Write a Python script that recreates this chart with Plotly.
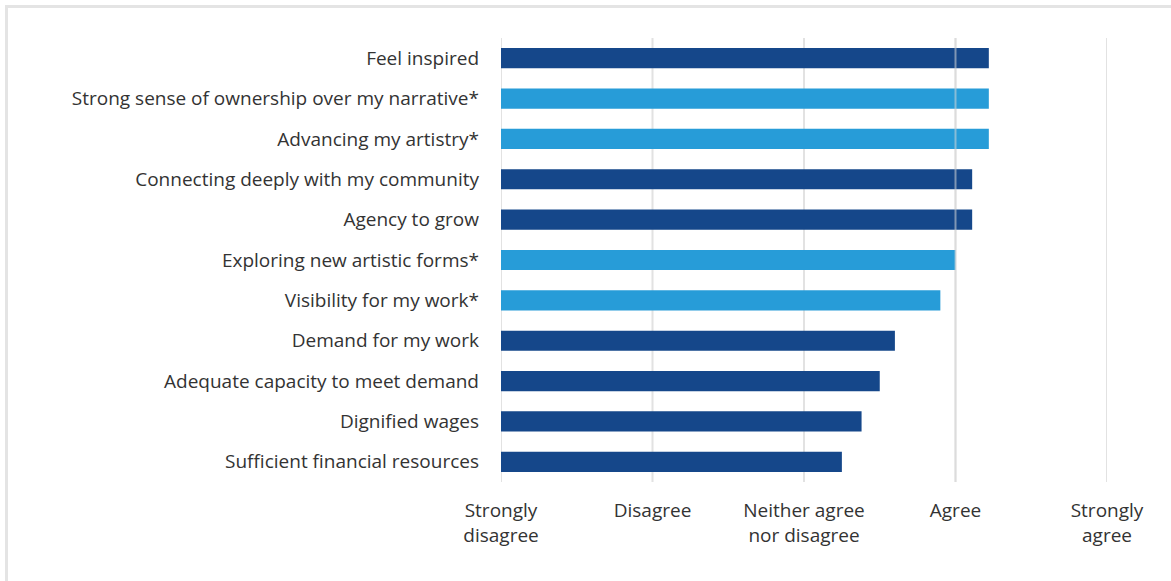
import plotly.graph_objects as go

# Survey items, listed top to bottom
categories = [
    "Feel inspired",
    "Strong sense of ownership over my narrative*",
    "Advancing my artistry*",
    "Connecting deeply with my community",
    "Agency to grow",
    "Exploring new artistic forms*",
    "Visibility for my work*",
    "Demand for my work",
    "Adequate capacity to meet demand",
    "Dignified wages",
    "Sufficient financial resources",
]
# Mean agreement on a 1-5 scale
scores = [4.22, 4.22, 4.22, 4.11, 4.11, 4.00, 3.90, 3.60, 3.50, 3.38, 3.25]
# Starred items are shown in the lighter blue
highlight = [False, True, True, False, False, True, True, False, False, False, False]

scale_values = [1, 2, 3, 4, 5]
scale_labels = ["Strongly<br>disagree", "Disagree", "Neither agree<br>nor disagree",
                "Agree", "Strongly<br>agree"]
# The "Agree" guide is drawn across the bars
agree_value = 4

DARK = "#15478a"
LIGHT = "#279cd8"
TEXT = "#333333"
FONT = "Open Sans"
FONT_SIZE = 19

W, H = 1171, 581
L, R, T, B = 501, 64, 38, 99
pw, ph = W - L - R, H - T - B

fig = go.Figure(go.Bar(
    x=scores,
    y=categories,
    orientation="h",
    marker=dict(color=[LIGHT if h else DARK for h in highlight], line=dict(width=0)),
    hoverinfo="x+y",
))

shapes = []
# Vertical guide lines at each scale point
for v in scale_values:
    shapes.append(dict(type="line", xref="x", yref="paper", x0=v, x1=v, y0=0, y1=1,
                       line=dict(color="#e2e2e2", width=2), layer="below"))
shapes.append(dict(type="line", xref="x", yref="paper", x0=agree_value, x1=agree_value,
                   y0=0, y1=1, line=dict(color="rgba(215,215,215,0.55)", width=2),
                   layer="above"))

# Light frame around the chart (runs past the right and bottom edges)
def px_to_paper_x(px):
    return (px - L) / pw

def px_to_paper_y(py):
    return (H - B - py) / ph

shapes.append(dict(type="rect", xref="paper", yref="paper",
                   x0=px_to_paper_x(6.5), x1=px_to_paper_x(W + 20),
                   y0=px_to_paper_y(H + 20), y1=px_to_paper_y(6.5),
                   line=dict(color="#e4e4e4", width=3), fillcolor="rgba(0,0,0,0)",
                   layer="below"))

fig.update_layout(
    width=W, height=H,
    margin=dict(l=L, r=R, t=T, b=B, pad=0),
    paper_bgcolor="white",
    plot_bgcolor="white",
    bargap=0.5,
    showlegend=False,
    font=dict(family=FONT, size=FONT_SIZE, color=TEXT),
    shapes=shapes,
    xaxis=dict(
        range=[1, 5],
        tickmode="array",
        tickvals=scale_values,
        ticktext=scale_labels,
        showgrid=False,
        zeroline=False,
        showline=False,
        ticks="",
        ticklabelstandoff=15,
        tickfont=dict(family=FONT, size=FONT_SIZE, color=TEXT),
        fixedrange=True,
    ),
    yaxis=dict(
        categoryorder="array",
        categoryarray=categories[::-1],
        showgrid=False,
        zeroline=False,
        showline=False,
        ticks="",
        ticklabelstandoff=21,
        tickfont=dict(family=FONT, size=FONT_SIZE, color=TEXT),
        fixedrange=True,
    ),
)

fig.write_html("out.html")
